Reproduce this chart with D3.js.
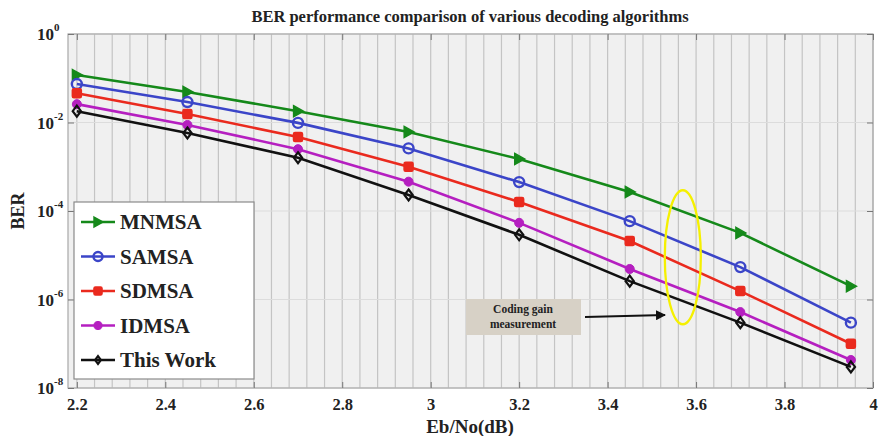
<!DOCTYPE html>
<html>
<head>
<meta charset="UTF-8">
<title>BER comparison</title>
<script src="https://cdnjs.cloudflare.com/ajax/libs/d3/7.8.5/d3.min.js"></script>
<style>
  body { margin: 0; background: #fff; }
  svg text { font-family: "Liberation Serif", "Times New Roman", serif !important; font-weight: bold; }
</style>
</head>
<body>
<script>

// Eb/No points (dB)
var ebno = [2.2, 2.45, 2.7, 2.95, 3.2, 3.45, 3.7, 3.95];

// BER of each decoder
var mnmsa    = [0.118, 0.049, 0.018, 0.0061, 0.0015, 2.7e-4, 3.2e-5, 2.0e-6];
var samsa    = [0.074, 0.029, 0.0098, 0.0026, 4.5e-4, 5.9e-5, 5.4e-6, 3.0e-7];
var sdmsa    = [0.046, 0.0156, 0.0047, 0.0010, 1.6e-4, 2.1e-5, 1.55e-6, 1.0e-7];
var idmsa    = [0.026, 0.0088, 0.0025, 4.6e-4, 5.4e-5, 4.9e-6, 5.2e-7, 4.3e-8];
var thisWork = [0.018, 0.0058, 0.0016, 2.3e-4, 2.9e-5, 2.6e-6, 3.0e-7, 3.0e-8];

var seriesNames = ["MNMSA", "SAMSA", "SDMSA", "IDMSA", "This Work"];
var xTicks = [2.2, 2.4, 2.6, 2.8, 3, 3.2, 3.4, 3.6, 3.8, 4];
var yTicks = [1, 1e-2, 1e-4, 1e-6, 1e-8];

var series = [
  {name: seriesNames[0], values: mnmsa,    color: "#15891a", marker: "tri"},
  {name: seriesNames[1], values: samsa,    color: "#3b45c8", marker: "circle"},
  {name: seriesNames[2], values: sdmsa,    color: "#ea2a1e", marker: "square"},
  {name: seriesNames[3], values: idmsa,    color: "#b51fc0", marker: "dot"},
  {name: seriesNames[4], values: thisWork, color: "#111111", marker: "diamond"}
];

var width = 878, height = 436;
// plot box (pixels)
var pLeft = 68, pRight = 873, pTop = 34, pBottom = 388;

var svg = d3.select("body").append("svg")
    .attr("width", width)
    .attr("height", height);

var x = d3.scaleLinear().domain([2.18, 4]).range([pLeft, pRight]);
var y = d3.scaleLog().domain([1e-8, 1]).range([pBottom, pTop]);

// plot background
svg.append("rect")
    .attr("x", pLeft).attr("y", pTop)
    .attr("width", pRight - pLeft).attr("height", pBottom - pTop)
    .attr("fill", "#f0f0f0");

// vertical grid, every 0.04
svg.append("g").selectAll("line")
    .data(d3.range(0, 46).map(function(i){ return 2.2 + i * 0.04; }))
    .enter().append("line")
    .attr("x1", function(d){ return x(d); })
    .attr("x2", function(d){ return x(d); })
    .attr("y1", pTop).attr("y2", pBottom)
    .attr("stroke", "#c4c4c4")
    .attr("stroke-width", 1.2);

// horizontal grid at labelled decades
svg.append("g").selectAll("line")
    .data(yTicks)
    .enter().append("line")
    .attr("x1", pLeft).attr("x2", pRight)
    .attr("y1", function(d){ return y(d); })
    .attr("y2", function(d){ return y(d); })
    .attr("stroke", "#dcdcdc")
    .attr("stroke-width", 1);

// border
svg.append("rect")
    .attr("x", pLeft).attr("y", pTop)
    .attr("width", pRight - pLeft).attr("height", pBottom - pTop)
    .attr("fill", "none")
    .attr("stroke", "#a8a8a8")
    .attr("stroke-width", 1.2);

// axes (ticks pointing inward)
var xAxis = d3.axisBottom(x).tickValues(xTicks).tickSize(-6).tickFormat(d3.format("~g"));
var gx = svg.append("g").attr("transform", "translate(0," + pBottom + ")").call(xAxis);
gx.select(".domain").remove();
gx.selectAll("line").attr("stroke", "#777");
gx.selectAll("text")
    .attr("font-size", 16.5)
    .attr("fill", "#222")
    .attr("dy", "1.15em");

var gxTop = svg.append("g").attr("transform", "translate(0," + pTop + ")")
    .call(d3.axisTop(x).tickValues(xTicks).tickSize(-6).tickFormat(""));
gxTop.select(".domain").remove();
gxTop.selectAll("line").attr("stroke", "#777");

var gyR = svg.append("g").attr("transform", "translate(" + pRight + ",0)")
    .call(d3.axisRight(y).tickValues(yTicks).tickSize(-6).tickFormat(""));
gyR.select(".domain").remove();
gyR.selectAll("line").attr("stroke", "#777");

var gyL = svg.append("g").attr("transform", "translate(" + pLeft + ",0)")
    .call(d3.axisLeft(y).tickValues(yTicks).tickSize(-6).tickFormat(""));
gyL.select(".domain").remove();
gyL.selectAll("line").attr("stroke", "#777");

// y labels as 10^k
var ylab = svg.append("g").selectAll("text")
    .data(yTicks)
    .enter().append("text")
    .attr("x", pLeft - 31)
    .attr("y", function(d){ return y(d) + 6; })
    .attr("font-size", 17)
    .attr("fill", "#222")
    .attr("text-anchor", "start");
ylab.append("tspan").text("10");
ylab.append("tspan")
    .attr("dy", -9)
    .attr("font-size", 11)
    .text(function(d){ return Math.round(Math.log10(d)); });

// lines
var line = d3.line()
    .x(function(d, i){ return x(ebno[i]); })
    .y(function(d){ return y(d); });

svg.append("g").selectAll("path")
    .data(series)
    .enter().append("path")
    .attr("d", function(s){ return line(s.values); })
    .attr("fill", "none")
    .attr("stroke", function(s){ return s.color; })
    .attr("stroke-width", 2.6);

function drawMarker(g, type, color, cx, cy, scale) {
  scale = scale || 1;
  if (type === "tri") {
    var s = 5.5 * scale;
    g.append("path")
      .attr("d", "M" + (cx - s * 0.8) + "," + (cy - s) + "L" + (cx + s) + "," + cy + "L" + (cx - s * 0.8) + "," + (cy + s) + "Z")
      .attr("fill", color).attr("stroke", color).attr("stroke-width", 1.5);
  } else if (type === "circle") {
    g.append("circle").attr("cx", cx).attr("cy", cy).attr("r", 5 * scale)
      .attr("fill", "none").attr("stroke", color).attr("stroke-width", 2.4);
  } else if (type === "square") {
    var h = 4.5 * scale;
    g.append("rect").attr("x", cx - h).attr("y", cy - h).attr("width", 2 * h).attr("height", 2 * h)
      .attr("rx", 1.5)
      .attr("fill", color).attr("stroke", color).attr("stroke-width", 1.5);
  } else if (type === "dot") {
    g.append("circle").attr("cx", cx).attr("cy", cy).attr("r", 4.5 * scale)
      .attr("fill", color).attr("stroke", color).attr("stroke-width", 1);
  } else if (type === "diamond") {
    var r = 5.5 * scale;
    g.append("path")
      .attr("d", "M" + cx + "," + (cy - r) + "L" + (cx + r * 0.75) + "," + cy + "L" + cx + "," + (cy + r) + "L" + (cx - r * 0.75) + "," + cy + "Z")
      .attr("fill", "none").attr("stroke", color).attr("stroke-width", 2.2);
  }
}

var markers = svg.append("g");
series.forEach(function(s){
  s.values.forEach(function(v, i){
    drawMarker(markers, s.marker, s.color, x(ebno[i]), y(v));
  });
});

// yellow ellipse and annotation
svg.append("ellipse")
    .attr("cx", x(3.57)).attr("cy", y(9e-6))
    .attr("rx", 18).attr("ry", 67)
    .attr("fill", "none")
    .attr("stroke", "#f5f000")
    .attr("stroke-width", 2.3);

svg.append("rect")
    .attr("x", 466).attr("y", 299)
    .attr("width", 115).attr("height", 36)
    .attr("fill", "#d7d1c6");
svg.append("text").attr("x", 523).attr("y", 313)
    .attr("text-anchor", "middle").attr("font-size", 11.5).attr("fill", "#222")
    .text("Coding gain");
svg.append("text").attr("x", 523).attr("y", 328)
    .attr("text-anchor", "middle").attr("font-size", 11.5).attr("fill", "#222")
    .text("measurement");

svg.append("defs").append("marker")
    .attr("id", "arrow")
    .attr("viewBox", "0 0 10 10")
    .attr("refX", 9).attr("refY", 5)
    .attr("markerWidth", 5).attr("markerHeight", 5)
    .attr("orient", "auto")
    .append("path").attr("d", "M0,0L10,5L0,10Z").attr("fill", "#111");
svg.append("line")
    .attr("x1", 585).attr("y1", 317)
    .attr("x2", 665).attr("y2", 315)
    .attr("stroke", "#111").attr("stroke-width", 2)
    .attr("marker-end", "url(#arrow)");

// legend
var lg = svg.append("g");
lg.append("rect")
    .attr("x", 74).attr("y", 202)
    .attr("width", 180).attr("height", 177)
    .attr("fill", "#fff")
    .attr("stroke", "#8a8a8a")
    .attr("stroke-width", 1.2);
series.forEach(function(s, i){
  var ly = 222 + i * 34.5;
  lg.append("line").attr("x1", 81).attr("x2", 115).attr("y1", ly).attr("y2", ly)
    .attr("stroke", s.color).attr("stroke-width", 2.6);
  drawMarker(lg, s.marker, s.color, 98, ly, s.marker === "diamond" ? 0.7 : 0.9);
  lg.append("text").attr("x", 120).attr("y", ly + 7)
    .attr("font-size", 21).attr("fill", "#222")
    .text(s.name);
});

// titles
svg.append("text")
    .attr("x", 470).attr("y", 22)
    .attr("text-anchor", "middle")
    .attr("font-size", 16.5)
    .attr("fill", "#222")
    .text("BER performance comparison of various decoding algorithms");

svg.append("text")
    .attr("x", 470).attr("y", 433)
    .attr("text-anchor", "middle")
    .attr("font-size", 19)
    .attr("fill", "#222")
    .text("Eb/No(dB)");

svg.append("text")
    .attr("transform", "translate(24,211) rotate(-90)")
    .attr("text-anchor", "middle")
    .attr("font-size", 18)
    .attr("fill", "#222")
    .text("BER");

</script>
</body>
</html>
